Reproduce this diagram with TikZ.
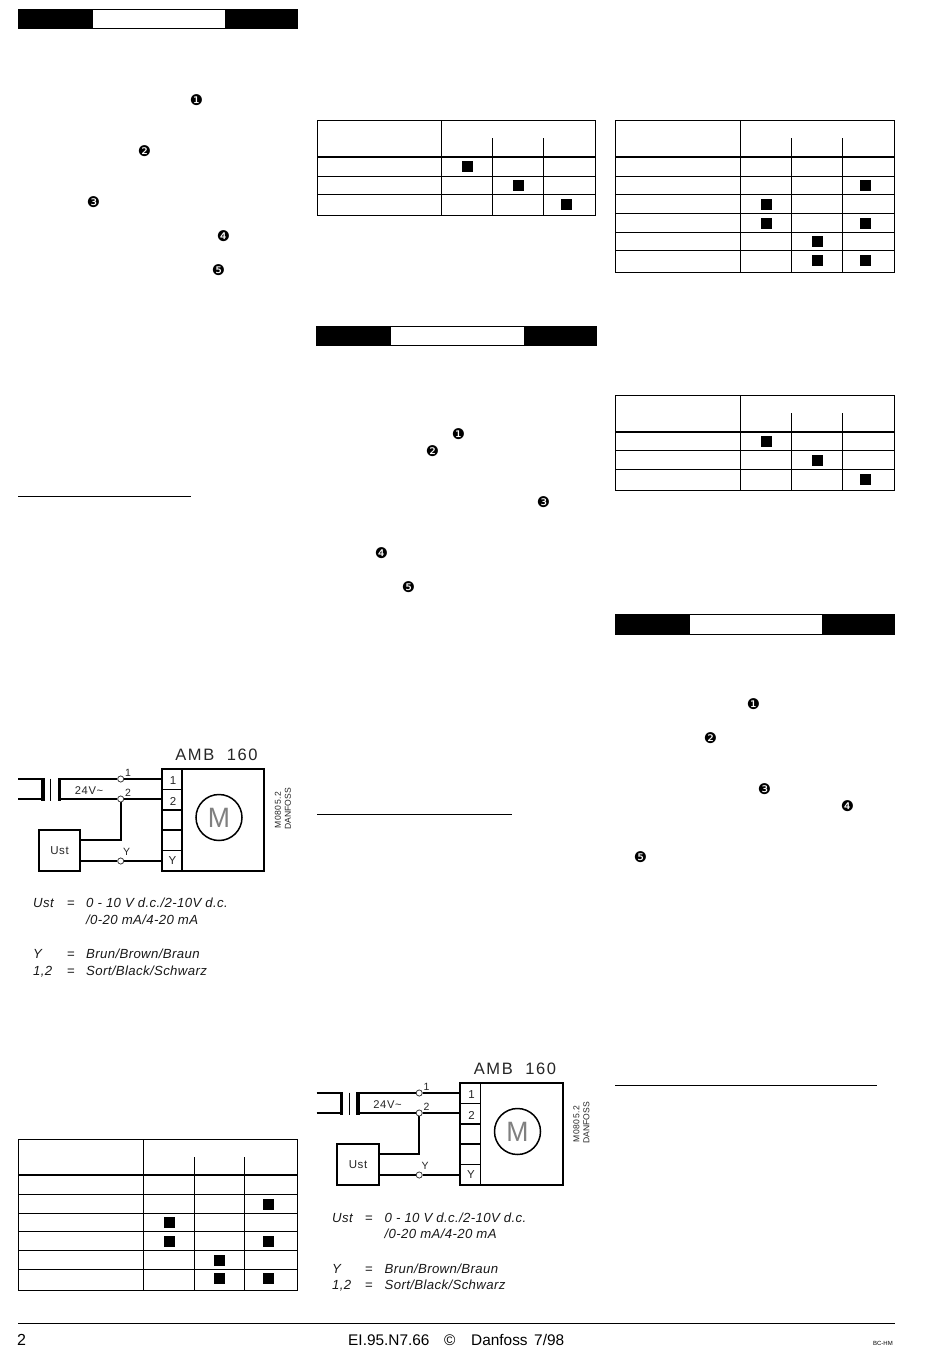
\documentclass[tikz,border=0pt]{standalone}
\usepackage{fontspec}
\setmainfont{Liberation Sans}
\newfontfamily\dejavu{DejaVu Sans}
\newfontfamily\wide[LetterSpace=10]{Liberation Sans}
\newfontfamily\wider[LetterSpace=5]{Liberation Sans}
\newfontfamily\legf[LetterSpace=2.8]{Liberation Sans}
\tikzset{
  x=1pt,y=-1pt,
  tline/.style={line width=1.2pt,black,line cap=rect},
  tthick/.style={line width=2.2pt,black},
  wire/.style={line width=1.8pt,black},
  boxl/.style={line width=1.8pt,black},
  term/.style={circle,draw=black!75,line width=0.7pt,fill=white,inner sep=0pt,minimum size=6pt},
  lab/.style={inner sep=0pt,font=\wider\fontsize{10.5}{12}\selectfont,text=black!85},
  leg/.style={inner sep=0pt,anchor=base west,font=\legf\itshape\fontsize{13.2}{15}\selectfont,text=black!90},
  legeq/.style={inner sep=0pt,anchor=base west,font=\fontsize{13.2}{15}\selectfont,text=black!90},
  num/.style={inner sep=0pt,font=\dejavu\fontsize{14.8}{16}\selectfont},
  foot/.style={inner sep=0pt,anchor=base west,font=\fontsize{15.4}{18}\selectfont},
}
% header bar: x0, x1, y0, y1, white x0, white x1
\newcommand{\hdrbar}[6]{%
  \fill[black] (#1,#3) rectangle (#2,#4);
  \fill[white] (#5,#3+1) rectangle (#6,#4-1);
}
\newcommand{\sqr}[2]{\fill[black] (#1,#2) ++(-5.5,-5.5) rectangle ++(11,11);}
% table frame: x0,x1,top,thick,bottom,sub-top, v1,v2,v3
\newcommand{\tblframe}[9]{%
  \draw[tline] (#1,#3) rectangle (#2,#5);
  \draw[tline] (#7,#3) -- (#7,#5);
  \draw[tline] (#8,#6) -- (#8,#5);
  \draw[tline] (#9,#6) -- (#9,#5);
  \draw[tthick] (#1,#4) -- (#2,#4);
}
\newcommand{\wiring}[3]{% prefix, dx, dy
\begin{scope}[shift={(#2,#3)}]
  \node[inner sep=0pt,font=\wide\fontsize{16.5}{18}\selectfont,text=black!85] (#1title) at (216.5,755) {AMB\ \ 160};
  \node[draw=black,line width=2pt,inner sep=0pt,minimum width=102.5pt,minimum height=102pt] (#1case) at (213,820) {};
  \draw[boxl] (182,769) -- (182,871);
  \foreach \yy in {789.5,810,830,850.5} \draw[boxl] (161.7,\yy) -- (182,\yy);
  \node[lab,font=\fontsize{11.5}{12}\selectfont] (#1t1) at (173,781) {1};
  \node[lab,font=\fontsize{11.5}{12}\selectfont] (#1t2) at (173,801.5) {2};
  \node[lab,font=\fontsize{11.5}{12}\selectfont] (#1t3) at (172.5,861) {Y};
  \node[circle,draw=black,line width=1.5pt,inner sep=0pt,minimum size=46pt,font=\fontsize{28}{30}\selectfont,text=black!50] (#1mot) at (219,817.5) {\scalebox{0.95}[1]{M}};
  \node[rotate=90,inner sep=0pt,font=\wider\fontsize{8.6}{10}\selectfont,text=black!85] (#1m1) at (278,810) {M0805.2};
  \node[rotate=90,inner sep=0pt,font=\fontsize{8.6}{10}\selectfont,text=black!85] (#1m2) at (288,809) {DANFOSS};
  % Ust box
  \node[draw=black,line width=1.8pt,inner sep=0pt,minimum width=41.5pt,minimum height=41pt,font=\wider\fontsize{11.5}{12}\selectfont,text=black!85] (#1ust) at (59.5,850.5) {Ust};
  % terminals
  \node[term] (#1a) at (120.7,779) {};
  \node[term] (#1b) at (120.7,799) {};
  \node[term] (#1c) at (120.7,861) {};
  \coordinate (#1ta) at (161.7,779);
  \coordinate (#1tb) at (161.7,799);
  \coordinate (#1tc) at (161.7,861);
  \coordinate (#1tr1) at (61,779);
  \coordinate (#1tr2) at (61,799);
  \coordinate (#1tl1) at (41,779);
  \coordinate (#1tl2) at (41,799);
  \coordinate (#1e1) at (18,779);
  \coordinate (#1e2) at (18,799);
  \coordinate (#1ub) at (80.3,840);
  \coordinate (#1uc) at (80.3,861);
  % wires
  \draw[wire] (#1tr1) -- (#1a) -- (#1ta);
  \draw[wire] (#1tr2) -- (#1b) -- (#1tb);
  \draw[wire] (#1e1) -- (#1tl1);
  \draw[wire] (#1e2) -- (#1tl2);
  \draw[wire] (#1b) -- (120.7,840) -- (#1ub);
  \draw[wire] (#1uc) -- (#1c) -- (#1tc);
  \node[term] at (#1a) {};
  \node[term] at (#1b) {};
  \node[term] at (#1c) {};
  % transformer
  \fill[black] (41,778) rectangle (44.5,800.5);
  \fill[black] (57.5,778) rectangle (61,800.5);
  \draw[line width=1.2pt] (50.7,778.5) -- (50.7,800.5);
  % labels
  \node[lab] (#1l1) at (128,772.5) {1};
  \node[lab] (#1l2) at (128,793) {2};
  \node[lab] (#1l3) at (126.7,852) {Y};
  \node[lab,font=\wider\fontsize{11.2}{12}\selectfont] (#1lv) at (89,791) {24V\char"7E};
\end{scope}}
\begin{document}
\begin{tikzpicture}
\fill[white] (0,0) rectangle (950,1370);
\path[use as bounding box] (0,0) rectangle (950,1370);

% header bars
\hdrbar{18}{298}{9}{29}{93}{225}
\hdrbar{316}{597}{326}{346}{391}{524}
\hdrbar{615}{895}{614}{635}{690}{822}

% circled numerals
\node[num] (n1) at (196.5,100.3) {❶};
\node[num] (n2) at (144.5,151.3) {❷};
\node[num] (n3) at (93.5,202.3) {❸};
\node[num] (n4) at (223.5,236.3) {❹};
\node[num] (n5) at (218.5,270.3) {❺};
\node[num] (n6) at (458.5,434.3) {❶};
\node[num] (n7) at (432.5,451.3) {❷};
\node[num] (n8) at (543.5,502.3) {❸};
\node[num] (n9) at (381.5,553.3) {❹};
\node[num] (n10) at (408.5,587.3) {❺};
\node[num] (n11) at (753.5,704.3) {❶};
\node[num] (n12) at (710.5,738.3) {❷};
\node[num] (n13) at (764.5,789.3) {❸};
\node[num] (n14) at (847.5,806.3) {❹};
\node[num] (n15) at (640.5,857.3) {❺};

% short rules
\draw[tline,line cap=butt] (18,496.5) -- (190.5,496.5);
\draw[tline,line cap=butt] (317,814.5) -- (512,814.5);
\draw[tline,line cap=butt] (615,1085.5) -- (876.5,1085.5);

% table 1 (top middle)
\tblframe{317.5}{595.7}{120.3}{157}{215.3}{138.3}{441.3}{492.3}{543.3}
\foreach \yy in {176.3,194.3} \draw[tline] (317.5,\yy) -- (595.7,\yy);
\sqr{467.7}{166.3}\sqr{518}{185.3}\sqr{566.3}{204.3}

% table 2 (top right)
\tblframe{615.5}{894.7}{120.3}{157}{272.3}{138.3}{740.3}{791.3}{842.3}
\foreach \yy in {176.3,194.3,213.3,232.3,250.3} \draw[tline] (615.5,\yy) -- (894.7,\yy);
\sqr{865}{185.3}
\sqr{766.7}{204.3}
\sqr{766.7}{223.3}\sqr{865}{223.3}
\sqr{817}{241.3}
\sqr{817}{260.3}\sqr{865}{260.3}

% table 3 (right middle)
\tblframe{615.5}{894.7}{395.3}{432}{490.3}{413.3}{740.3}{791.3}{842.3}
\foreach \yy in {450.3,469.3} \draw[tline] (615.5,\yy) -- (894.7,\yy);
\sqr{766.7}{441.3}\sqr{817}{460.3}\sqr{865}{479.3}

% table 4 (bottom left)
\tblframe{18.5}{297.3}{1139.3}{1174.7}{1290.3}{1157.3}{143.3}{194.3}{244.3}
\foreach \yy in {1194.3,1213.3,1231.3,1250.3,1269.3} \draw[tline] (18.5,\yy) -- (297.3,\yy);
\sqr{268}{1204.3}
\sqr{169.3}{1222.3}
\sqr{169.3}{1241.3}\sqr{268}{1241.3}
\sqr{219.7}{1260.3}
\sqr{219.7}{1278.3}\sqr{268}{1278.3}

% wiring diagrams
\wiring{p}{0}{0}
\wiring{q}{298.5}{314}

% legend 1
\node[leg] (a1) at (33,907) {Ust};
\node[legeq] (a2) at (67,907) {=};
\node[leg] (a3) at (86,907) {0 - 10 V d.c./2-10V d.c.};
\node[leg] (a4) at (86,924) {/0-20 mA/4-20 mA};
\node[leg] (a5) at (33,958.5) {Y};
\node[legeq] (a6) at (67,958.5) {=};
\node[leg] (a7) at (86,958.5) {Brun/Brown/Braun};
\node[leg] (a8) at (33,975) {1,2};
\node[legeq] (a9) at (67,975) {=};
\node[leg] (a10) at (86,975) {Sort/Black/Schwarz};

% legend 2
\node[leg] (b1) at (332,1222) {Ust};
\node[legeq] (b2) at (365,1222) {=};
\node[leg] (b3) at (384.5,1222) {0 - 10 V d.c./2-10V d.c.};
\node[leg] (b4) at (384.5,1238.5) {/0-20 mA/4-20 mA};
\node[leg] (b5) at (332,1273) {Y};
\node[legeq] (b6) at (365,1273) {=};
\node[leg] (b7) at (384.5,1273) {Brun/Brown/Braun};
\node[leg] (b8) at (332,1289.5) {1,2};
\node[legeq] (b9) at (365,1289.5) {=};
\node[leg] (b10) at (384.5,1289.5) {Sort/Black/Schwarz};

% footer
\draw[tline,line cap=butt] (18,1323.5) -- (895,1323.5);
\node[foot,font=\fontsize{16}{18}\selectfont] (f1) at (17,1345.5) {2};
\node[foot] (f2) at (348,1345.5) {EI.95.N7.66};
\node[foot] (f3) at (444,1345.5) {©};
\node[foot] (f4) at (471,1345.5) {Danfoss};
\node[foot] (f5) at (534,1345.5) {7/98};
\node[inner sep=0pt,anchor=base east,font=\fontsize{6}{7}\selectfont] (f6) at (893,1345.5) {BC-HM};
\end{tikzpicture}
\end{document}
